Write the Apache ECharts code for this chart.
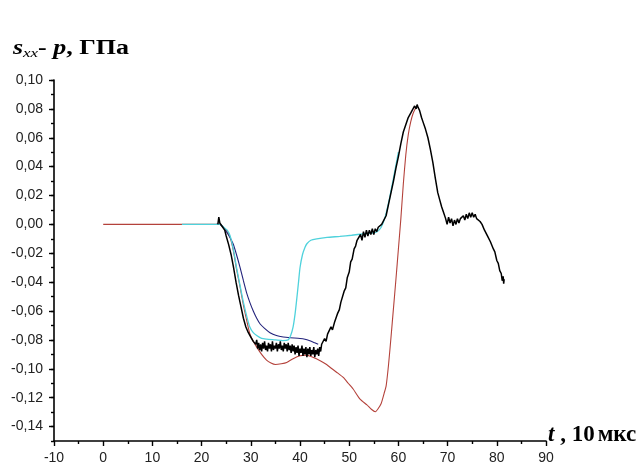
<!DOCTYPE html>
<html>
<head>
<meta charset="utf-8">
<script src="https://cdn.jsdelivr.net/npm/echarts@6/dist/echarts.min.js"></script>
<style>html,body{margin:0;padding:0;background:#fff;}#c{width:637px;height:469px;}</style>
</head>
<body>
<div id="c"></div>
<script>
// ---- data (t in 10 µs, s_xx - p in GPa) ----
const yTickLabels = [-0.14, -0.12, -0.10, -0.08, -0.06, -0.04, -0.02, 0.00, 0.02, 0.04, 0.06, 0.08, 0.10];

const redT = [0, 23.7, 24.5, 25.2, 25.8, 26.5, 27.1, 27.8, 28.5, 29.2, 29.8, 30.5, 31.2, 32.2, 33.2, 34.1, 35.0, 36.2, 37.3, 38.6, 40.0, 41.3, 42.6, 44.1, 45.4, 46.5, 47.7, 48.8, 49.8, 50.8, 52.2, 53.6, 54.5, 55.3, 55.8, 56.5, 57.1, 57.5, 58.0, 58.5, 59.0, 59.5, 60.0, 60.5, 61.0, 61.5, 62.0, 62.5, 63.0, 63.7];
const redS = [0, 0, -0.002, -0.005, -0.009, -0.019, -0.031, -0.043, -0.056, -0.067, -0.0757, -0.081, -0.085, -0.090, -0.094, -0.096, -0.097, -0.0965, -0.0956, -0.093, -0.091, -0.0905, -0.092, -0.0944, -0.097, -0.100, -0.103, -0.106, -0.110, -0.114, -0.121, -0.125, -0.128, -0.1297, -0.128, -0.124, -0.117, -0.112, -0.097, -0.078, -0.058, -0.038, -0.017, 0.004, 0.028, 0.048, 0.062, 0.071, 0.077, 0.082];

const navyT = [23.0, 23.7, 24.4, 25.4, 26.4, 27.1, 27.8, 28.5, 29.2, 29.8, 30.5, 31.2, 31.9, 32.8, 33.9, 35.2, 36.6, 38.0, 40.0, 41.0, 42.0, 43.0, 43.7];
const navyS = [0, 0, -0.002, -0.007, -0.0134, -0.021, -0.0296, -0.039, -0.048, -0.054, -0.060, -0.065, -0.069, -0.072, -0.075, -0.077, -0.078, -0.0785, -0.079, -0.0795, -0.0806, -0.082, -0.083];

const cyanT = [16, 23.7, 24.5, 25.2, 25.8, 26.5, 27.1, 27.8, 28.5, 29.2, 29.8, 30.5, 31.2, 32.2, 33.2, 35.0, 36.5, 37.6, 38.1, 38.6, 39.0, 39.3, 39.7, 40.0, 40.5, 41.0, 41.4, 42.2, 43.4, 45.5, 48.1, 50.5, 52.9, 54.5, 55.6, 56.5, 57.3, 58.0, 58.3, 59.0, 59.5, 60.0];
const cyanS = [0, 0, -0.002, -0.004, -0.008, -0.018, -0.030, -0.042, -0.054, -0.064, -0.071, -0.075, -0.077, -0.079, -0.0795, -0.080, -0.0805, -0.080, -0.077, -0.071, -0.062, -0.053, -0.040, -0.030, -0.021, -0.016, -0.0134, -0.011, -0.010, -0.009, -0.0083, -0.0075, -0.0065, -0.006, -0.0053, -0.002, 0.005, 0.015, 0.020, 0.032, 0.041, 0.050];

const blackT = [23.3, 23.5, 23.7, 24.0, 24.3, 24.7, 25.0, 25.5, 26.0, 26.5, 27.0, 27.5, 28.0, 28.5, 29.0, 29.5, 30.0, 30.5,
  31.0, 31.2, 31.4, 31.6, 31.8, 32.0, 32.2, 32.4, 32.6, 32.8, 33.0, 33.2, 33.4, 33.6, 33.8, 34.0, 34.2, 34.4, 34.6, 34.8,
  35.0, 35.2, 35.4, 35.6, 35.8, 36.0, 36.2, 36.4, 36.6, 36.8, 37.0, 37.2, 37.4, 37.6, 37.8, 38.0, 38.2, 38.4, 38.6, 38.8,
  39.0, 39.2, 39.4, 39.6, 39.8, 40.0, 40.2, 40.4, 40.6, 40.8, 41.0, 41.2, 41.4, 41.6, 41.8, 42.0, 42.2, 42.4, 42.6, 42.8,
  43.0, 43.2, 43.4, 43.6, 43.8, 44.0, 44.2, 44.4, 44.7, 45.0, 45.3, 45.6,
  46.0, 46.3, 46.6, 47.0, 47.3, 47.6, 48.0, 48.3, 48.6, 49.0, 49.3, 49.6, 50.0, 50.3, 50.6, 51.0, 51.3, 51.6,
  52.0, 52.3, 52.6, 52.9, 53.2, 53.5, 53.8, 54.1, 54.4, 54.7, 55.0, 55.3, 55.6, 55.9, 56.2, 56.6, 57.0,
  57.5, 58.0, 58.5, 59.0, 59.5, 60.0, 60.5, 61.0, 61.5, 62.0, 62.5, 62.8, 63.0, 63.3, 63.6, 63.8, 64.0, 64.3, 64.7,
  65.0, 65.5, 66.0, 66.5, 67.0, 67.5, 68.0, 68.4, 68.8, 69.2,
  69.6, 69.9, 70.2, 70.5, 70.8, 71.1, 71.4, 71.7, 72.0, 72.3, 72.6, 72.9, 73.2, 73.5, 73.8, 74.1, 74.4, 74.7, 75.0, 75.3, 75.6, 75.9, 76.2, 76.6, 77.0,
  77.5, 77.8, 78.1, 78.4, 78.7, 79.0, 79.3, 79.6, 80.0, 80.3, 80.6, 80.9, 81.1, 81.3, 81.4, 81.5];
const blackS = [0.000, 0.005, 0.001, 0.002, -0.002, -0.004, -0.008, -0.014, -0.021, -0.030, -0.040, -0.049, -0.057, -0.065, -0.071, -0.075, -0.078, -0.081,
  -0.083, -0.080, -0.086, -0.082, -0.087, -0.083, -0.088, -0.082, -0.086, -0.081, -0.087, -0.084, -0.088, -0.082, -0.086, -0.083, -0.088, -0.081, -0.087, -0.084,
  -0.086, -0.082, -0.088, -0.083, -0.086, -0.081, -0.087, -0.084, -0.088, -0.082, -0.086, -0.083, -0.088, -0.082, -0.087, -0.084, -0.089, -0.083, -0.088, -0.084,
  -0.090, -0.085, -0.089, -0.084, -0.091, -0.086, -0.089, -0.084, -0.091, -0.086, -0.090, -0.085, -0.092, -0.086, -0.090, -0.085, -0.091, -0.087, -0.090, -0.085,
  -0.092, -0.087, -0.090, -0.086, -0.091, -0.085, -0.088, -0.083, -0.084, -0.079, -0.081, -0.076,
  -0.075, -0.071, -0.073, -0.068, -0.067, -0.062, -0.059, -0.054, -0.053, -0.046, -0.044, -0.037, -0.033, -0.026, -0.024, -0.017, -0.015, -0.011,
  -0.010, -0.007, -0.011, -0.005, -0.009, -0.004, -0.008, -0.004, -0.007, -0.003, -0.007, -0.003, -0.005, -0.002, -0.003, 0.000, 0.001,
  0.006, 0.014, 0.022, 0.030, 0.039, 0.047, 0.056, 0.064, 0.069, 0.074, 0.077, 0.079, 0.078, 0.082, 0.080, 0.083, 0.081, 0.079, 0.074,
  0.071, 0.066, 0.060, 0.052, 0.043, 0.032, 0.022, 0.017, 0.012, 0.008,
  0.004, 0.000, 0.005, 0.001, 0.004, -0.001, 0.003, 0.000, 0.004, 0.001, 0.004, 0.003, 0.006, 0.003, 0.007, 0.004, 0.008, 0.005, 0.008, 0.005, 0.007, 0.004, 0.005, 0.002, 0.000,
  -0.004, -0.005, -0.008, -0.009, -0.012, -0.013, -0.017, -0.019, -0.025, -0.027, -0.032, -0.034, -0.039, -0.036, -0.041, -0.038];

function zip(a, b) { return a.map((v, i) => [v, b[i]]); }
const fmt = v => v.toFixed(2).replace('.', ',');
const labelFont = { fontFamily: 'Liberation Sans', fontSize: 14, color: '#222' };

const chart = echarts.init(document.getElementById('c'), null, { renderer: 'canvas' });
chart.setOption({
  animation: false,
  backgroundColor: '#fff',
  grid: { left: 54, right: 91, top: 80, bottom: 28, containLabel: false },
  xAxis: {
    type: 'value', min: -10, max: 90, interval: 10,
    axisLine: { show: true, onZero: false, lineStyle: { color: '#000', width: 1.6 } },
    axisTick: { show: true, inside: false, length: 5, lineStyle: { color: '#000', width: 1.4 } },
    minorTick: { show: true, splitNumber: 2, length: 3, lineStyle: { color: '#000', width: 1.4 } },
    axisLabel: Object.assign({ margin: 10 }, labelFont),
    splitLine: { show: false }
  },
  yAxis: [{
    type: 'value', min: -0.15, max: 0.10, interval: 0.01,
    axisLine: { show: true, onZero: false, lineStyle: { color: '#000', width: 1.6 } },
    axisTick: { show: true, inside: false, length: 3, lineStyle: { color: '#000', width: 1.4 } },
    axisLabel: { show: false },
    splitLine: { show: false }
  }, {
    type: 'value', min: -0.15, max: 0.10, interval: 0.01, position: 'left', offset: 0,
    axisLine: { show: false, onZero: false },
    axisTick: { show: true, inside: false, length: 5, customValues: yTickLabels, lineStyle: { color: '#000', width: 1.4 } },
    axisLabel: Object.assign({ margin: 11, customValues: yTickLabels, formatter: v => fmt(v) }, labelFont),
    splitLine: { show: false }
  }],
  series: [
    { type: 'line', name: 'red', data: zip(redT, redS), showSymbol: false, smooth: 0.2, lineStyle: { color: '#b4423b', width: 1.1 }, z: 2 },
    { type: 'line', name: 'navy', data: zip(navyT, navyS), showSymbol: false, smooth: 0.2, lineStyle: { color: '#23237c', width: 1.1 }, z: 3 },
    { type: 'line', name: 'cyan', data: zip(cyanT, cyanS), showSymbol: false, smooth: 0.2, lineStyle: { color: '#4fd2dc', width: 1.3 }, z: 4 },
    { type: 'line', name: 'black', data: zip(blackT, blackS), showSymbol: false, smooth: false, lineStyle: { color: '#000', width: 1.5 }, z: 5 }
  ],
  graphic: [{
    type: 'text', left: 13, top: 37, scaleX: 1.3, z: 10,
    style: {
      text: '{s|s}{sub|xx}{b|- }{s|p}{b|, ГПа}',
      rich: {
        s: { fontFamily: 'Liberation Serif', fontSize: 20, fontWeight: 'bold', fontStyle: 'italic', color: '#111', lineHeight: 24 },
        sub: { fontFamily: 'Liberation Serif', fontSize: 13, fontStyle: 'italic', color: '#111', lineHeight: 24, padding: [10, 0, 0, 0] },
        b: { fontFamily: 'Liberation Serif', fontSize: 20, fontWeight: 'bold', color: '#111', lineHeight: 24 }
      }
    }
  }, {
    type: 'text', left: 548, top: 424, z: 10,
    style: {
      text: '{t|t}{b| , 10}{u|мкс}',
      rich: {
        t: { fontFamily: 'Liberation Serif', fontSize: 23, fontWeight: 'bold', fontStyle: 'italic', color: '#111', lineHeight: 26 },
        b: { fontFamily: 'Liberation Serif', fontSize: 23, fontWeight: 'bold', color: '#111', lineHeight: 26 },
        u: { fontFamily: 'Liberation Serif', fontSize: 23, fontWeight: 'bold', color: '#111', lineHeight: 26, padding: [0, 0, 0, 3] }
      }
    }
  }]
});
</script>
</body>
</html>
